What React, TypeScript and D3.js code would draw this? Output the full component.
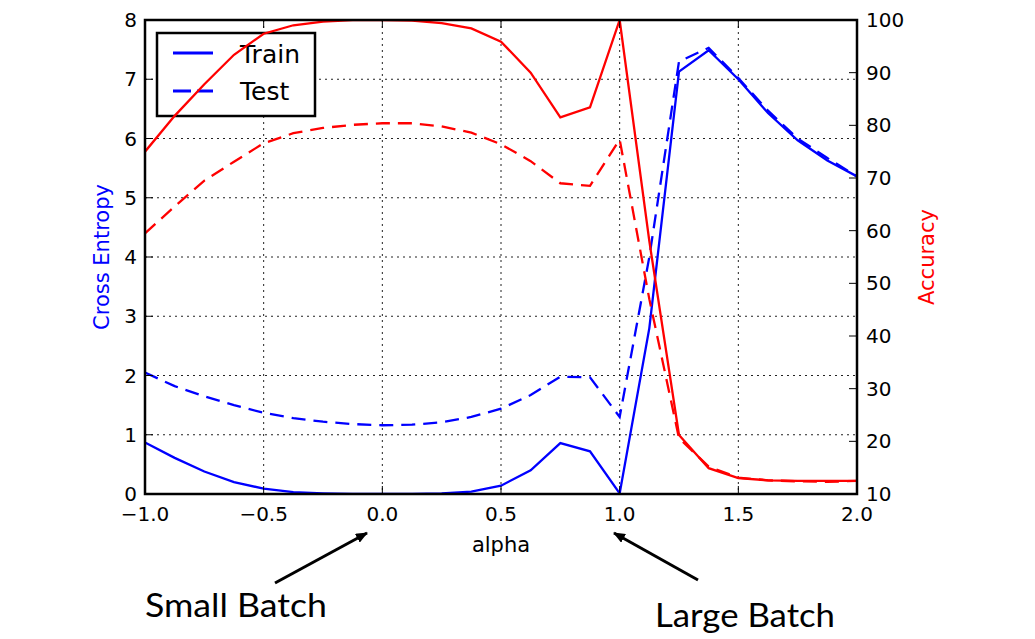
import React from "react";
import * as d3 from "d3";

// ---------- data ----------
const alpha = [
  -1.0, -0.875, -0.75, -0.625, -0.5, -0.375, -0.25, -0.125, 0.0, 0.125, 0.25, 0.375, 0.5,
  0.625, 0.75, 0.875, 1.0, 1.125, 1.25, 1.375, 1.5, 1.625, 1.75, 1.875, 2.0,
];
const trainLoss = [
  0.87, 0.61, 0.38, 0.2, 0.09, 0.03, 0.01, 0.0, 0.0, 0.0, 0.01, 0.04, 0.14,
  0.4, 0.86, 0.72, 0.01, 2.8, 7.13, 7.49, 7.0, 6.43, 5.97, 5.63, 5.36,
];
const testLoss = [
  2.05, 1.82, 1.65, 1.5, 1.37, 1.28, 1.22, 1.18, 1.16, 1.17, 1.21, 1.3, 1.44,
  1.67, 1.98, 1.97, 1.3, 4.0, 7.3, 7.53, 7.02, 6.47, 6.0, 5.67, 5.36,
];
const trainAcc = [
  75.0, 81.8, 87.8, 93.4, 97.4, 99.0, 99.7, 100, 100, 99.9, 99.4, 98.4, 95.9,
  90.0, 81.5, 83.4, 100, 58.0, 21.2, 14.9, 13.0, 12.6, 12.5, 12.5, 12.5,
];
const testAcc = [
  59.5, 64.6, 69.5, 73.1, 76.6, 78.5, 79.5, 80.1, 80.4, 80.4, 79.8, 78.6, 76.4,
  73.2, 69.0, 68.5, 77.3, 47.0, 20.6, 15.2, 13.1, 12.6, 12.4, 12.3, 12.5,
];
const xTicks = [-1.0, -0.5, 0.0, 0.5, 1.0, 1.5, 2.0];
const leftTicks = [0, 1, 2, 3, 4, 5, 6, 7, 8];
const rightTicks = [10, 20, 30, 40, 50, 60, 70, 80, 90, 100];
const legendLabels = ["Train", "Test"];
const annotationLabels = ["Small Batch", "Large Batch"];

// ---------- layout ----------
const W = 1035;
const H = 639;
const L = 145, R = 857, T = 20, B = 494;
const FONT = "'DejaVu Sans', sans-serif";
const BLUE = "#0000ff";
const RED = "#ff0000";
const LW = 2.3;
const DASH = "14,8";

export default function App() {
  const x = d3.scaleLinear().domain([-1, 2]).range([L, R]);
  const yL = d3.scaleLinear().domain([0, 8]).range([B, T]);
  const yR = d3.scaleLinear().domain([10, 100]).range([B, T]);

  const lineL = (vals: number[]) =>
    d3.line<number>().x((_, i) => x(alpha[i])).y((v) => yL(v))(vals) || "";
  const lineR = (vals: number[]) =>
    d3.line<number>().x((_, i) => x(alpha[i])).y((v) => yR(v))(vals) || "";

  const fmt = (v: number) => {
    const s = v.toFixed(1);
    return v < 0 ? "\u2212" + s.slice(1) : s;
  };

  const arrows = [
    { x1: 275, y1: 583, x2: 367, y2: 533, tx: 145, ty: 617, tw: 182 },
    { x1: 698, y1: 580, x2: 614, y2: 533, tx: 655, ty: 627, tw: 180 },
  ];

  return (
    <svg
      width={W}
      height={H}
      style={{ position: "absolute", left: 0, top: 0, background: "#fff" }}
      fontFamily={FONT}
    >
      <defs>
        <clipPath id="plotclip">
          <rect x={L} y={T} width={R - L} height={B - T} />
        </clipPath>
        <marker
          id="arrowhead"
          viewBox="0 0 12 10"
          refX="11"
          refY="5"
          markerWidth="12"
          markerHeight="10"
          markerUnits="userSpaceOnUse"
          orient="auto"
        >
          <path d="M0,0 L12,5 L0,10 z" fill="#000" />
        </marker>
      </defs>
      <rect x={0} y={0} width={W} height={H} fill="#fff" />

      {/* grid */}
      <g stroke="#222" strokeWidth={1} strokeDasharray="2,4">
        {xTicks.slice(1, -1).map((t) => (
          <line key={"gx" + t} x1={x(t)} x2={x(t)} y1={T} y2={B} />
        ))}
        {leftTicks.slice(1, -1).map((t) => (
          <line key={"gy" + t} x1={L} x2={R} y1={yL(t)} y2={yL(t)} />
        ))}
      </g>

      {/* blue lines (left axis) */}
      <g clipPath="url(#plotclip)" fill="none" stroke={BLUE} strokeWidth={LW}>
        <path d={lineL(trainLoss)} />
        <path d={lineL(testLoss)} strokeDasharray={DASH} />
      </g>

      {/* legend */}
      <g>
        <rect x={157} y={33} width={158} height={83} fill="#fff" stroke="#000" strokeWidth={2.5} />
        <line x1={173} x2={213} y1={53} y2={53} stroke={BLUE} strokeWidth={3} />
        <line x1={173} x2={213} y1={91} y2={91} stroke={BLUE} strokeWidth={3} strokeDasharray="18,6" />
        <text x={240} y={63} fontSize={25} fill="#000">{legendLabels[0]}</text>
        <text x={240} y={100} fontSize={25} fill="#000">{legendLabels[1]}</text>
      </g>

      {/* red lines (right axis) */}
      <g clipPath="url(#plotclip)" fill="none" stroke={RED} strokeWidth={LW}>
        <path d={lineR(trainAcc)} />
        <path d={lineR(testAcc)} strokeDasharray={DASH} />
      </g>

      {/* ticks */}
      <g stroke="#000" strokeWidth={1}>
        {leftTicks.map((t) => (
          <line key={"lt" + t} x1={L} x2={L + 8} y1={yL(t)} y2={yL(t)} />
        ))}
        {rightTicks.map((t) => (
          <line key={"rt" + t} x1={R} x2={R - 8} y1={yR(t)} y2={yR(t)} />
        ))}
        {xTicks.map((t) => (
          <g key={"xt" + t}>
            <line x1={x(t)} x2={x(t)} y1={B} y2={B - 8} />
            <line x1={x(t)} x2={x(t)} y1={T} y2={T + 8} />
          </g>
        ))}
      </g>

      {/* spines */}
      <rect x={L} y={T} width={R - L} height={B - T} fill="none" stroke="#000" strokeWidth={2.5} />

      {/* tick labels */}
      <g fontSize={20} fill="#000">
        {leftTicks.map((t) => (
          <text key={"ll" + t} x={L - 8} y={yL(t)} textAnchor="end" dominantBaseline="central">
            {t}
          </text>
        ))}
        {rightTicks.map((t) => (
          <text key={"rl" + t} x={R + 9} y={yR(t)} textAnchor="start" dominantBaseline="central">
            {t}
          </text>
        ))}
        {xTicks.map((t) => (
          <text key={"xl" + t} x={x(t)} y={521} textAnchor="middle">
            {fmt(t)}
          </text>
        ))}
      </g>

      {/* axis labels */}
      <text x={(L + R) / 2} y={552} textAnchor="middle" fontSize={21} fill="#000">
        alpha
      </text>
      <text
        transform={`translate(102,${(T + B) / 2}) rotate(-90)`}
        textAnchor="middle"
        dominantBaseline="central"
        fontSize={21}
        fill={BLUE}
      >
        Cross Entropy
      </text>
      <text
        transform={`translate(927,${(T + B) / 2}) rotate(-90)`}
        textAnchor="middle"
        dominantBaseline="central"
        fontSize={21}
        fill={RED}
      >
        Accuracy
      </text>

      {/* annotations */}
      {arrows.map((a, i) => (
        <g key={"ann" + i}>
          <line
            x1={a.x1}
            y1={a.y1}
            x2={a.x2}
            y2={a.y2}
            stroke="#000"
            strokeWidth={3}
            markerEnd="url(#arrowhead)"
          />
          <text
            x={a.tx}
            y={a.ty}
            fontFamily="Lato, 'Open Sans', sans-serif"
            fontSize={32}
            textLength={a.tw}
            lengthAdjust="spacingAndGlyphs"
            fill="#000"
          >
            {annotationLabels[i]}
          </text>
        </g>
      ))}
    </svg>
  );
}
